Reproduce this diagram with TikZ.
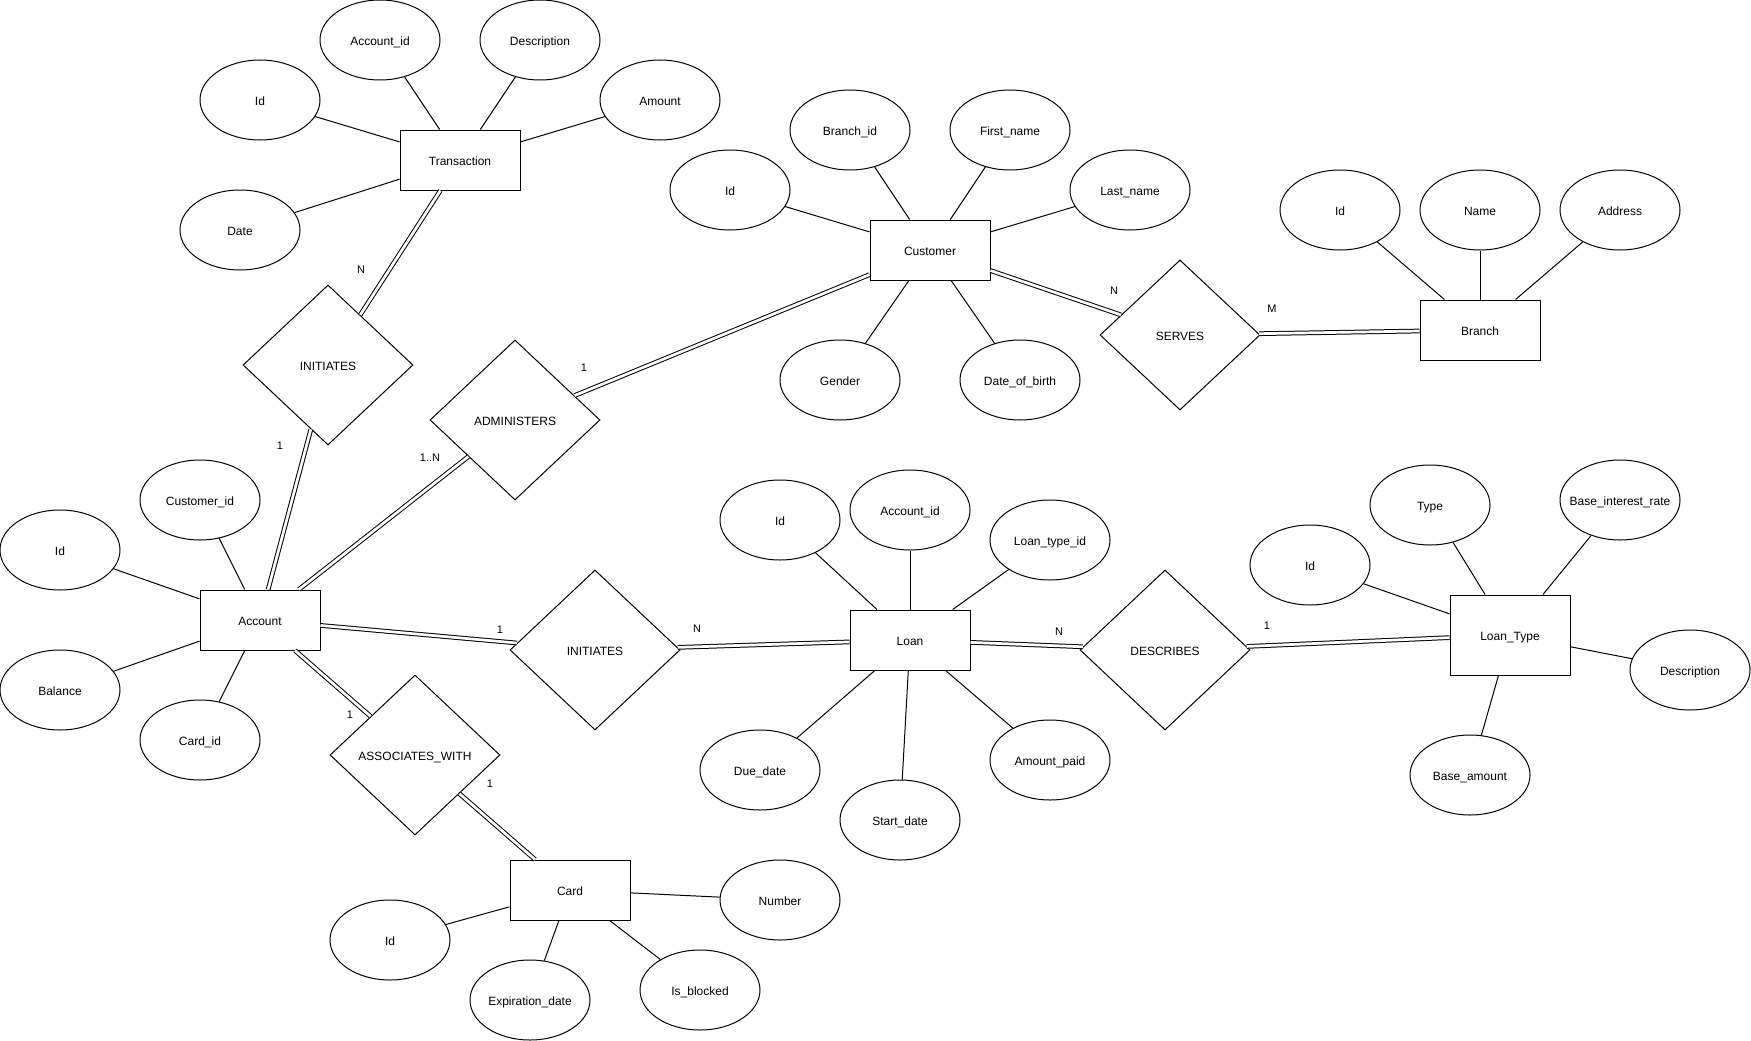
\documentclass[tikz,border=0pt]{standalone}
\usepackage{fontspec}
\setmainfont{Liberation Sans}
\usetikzlibrary{shapes.geometric}
\begin{document}
\begin{tikzpicture}[x=1pt,y=-1pt,
  every node/.style={font=\fontsize{12}{14}\selectfont, text=black},
  entity/.style={draw, line width=1pt, rectangle, minimum width=120pt, minimum height=60pt, inner sep=0pt, text height=10.4pt, text depth=0pt},
  attr/.style={draw, line width=1pt, ellipse, minimum width=120pt, minimum height=80pt, inner sep=0pt, inner xsep=-22pt, text height=10.4pt, text depth=0pt},
  rel/.style={draw, line width=1pt, diamond, minimum width=170pt, minimum height=160pt, inner sep=0pt, text height=10.4pt, text depth=0pt},
  conn/.style={line width=1pt},
  rl/.style={double, double distance=2.7pt, line width=1pt},
  lbl/.style={font=\fontsize{11}{13}\selectfont, inner sep=0pt}]
\useasboundingbox (0,0) rectangle (1751,1041);

% Transaction
\node[entity] (tr) at (460,160) {Transaction};
\node[attr] (tr_id) at (260,100) {Id};
\node[attr] (tr_acc) at (380,40) {Account\_id};
\node[attr] (tr_desc) at (540,40) {Description};
\node[attr] (tr_amt) at (660,100) {Amount};
\node[attr] (tr_date) at (240,230) {Date};

% Customer
\node[entity] (cu) at (930,250) {Customer};
\node[attr] (cu_id) at (730,190) {Id};
\node[attr] (cu_br) at (850,130) {Branch\_id};
\node[attr] (cu_fn) at (1010,130) {First\_name};
\node[attr] (cu_ln) at (1130,190) {Last\_name};
\node[attr] (cu_g) at (840,380) {Gender};
\node[attr] (cu_dob) at (1020,380) {Date\_of\_birth};

% Branch
\node[entity] (br) at (1480,330) {Branch};
\node[attr] (br_id) at (1340,210) {Id};
\node[attr] (br_name) at (1480,210) {Name};
\node[attr] (br_addr) at (1620,210) {Address};

% Relationships (top)
\node[rel, minimum width=160pt, minimum height=150pt] (serves) at (1180,335) {SERVES};
\node[rel] (init1) at (328,365) {INITIATES};
\node[rel] (admin) at (515,420) {ADMINISTERS};

% Account
\node[entity] (acc) at (260,620) {Account};
\node[attr] (acc_id) at (60,550) {Id};
\node[attr] (acc_cid) at (200,500) {Customer\_id};
\node[attr] (acc_bal) at (60,690) {Balance};
\node[attr] (acc_card) at (200,740) {Card\_id};

% Loan
\node[rel] (init2) at (595,650) {INITIATES};
\node[entity] (loan) at (910,640) {Loan};
\node[attr] (ln_id) at (780,520) {Id};
\node[attr] (ln_acc) at (910,510) {Account\_id};
\node[attr] (ln_lt) at (1050,540) {Loan\_type\_id};
\node[attr] (ln_due) at (760,770) {Due\_date};
\node[attr] (ln_start) at (900,820) {Start\_date};
\node[attr] (ln_paid) at (1050,760) {Amount\_paid};

% Loan_Type
\node[rel] (desc) at (1165,650) {DESCRIBES};
\node[entity, minimum height=80pt] (lt) at (1510,635) {Loan\_Type};
\node[attr] (lt_id) at (1310,565) {Id};
\node[attr] (lt_type) at (1430,505) {Type};
\node[attr] (lt_bir) at (1620,500) {Base\_interest\_rate};
\node[attr] (lt_desc) at (1690,670) {Description};
\node[attr] (lt_ba) at (1470,775) {Base\_amount};

% Card
\node[rel] (assoc) at (415,755) {ASSOCIATES\_WITH};
\node[entity] (card) at (570,890) {Card};
\node[attr] (cd_id) at (390,940) {Id};
\node[attr] (cd_exp) at (530,1000) {Expiration\_date};
\node[attr] (cd_blk) at (700,990) {Is\_blocked};
\node[attr] (cd_num) at (780,900) {Number};

% attribute connectors
\foreach \a in {tr_id,tr_acc,tr_desc,tr_amt,tr_date} \draw[conn] (\a) -- (tr);
\foreach \a in {cu_id,cu_br,cu_fn,cu_ln,cu_g,cu_dob} \draw[conn] (\a) -- (cu);
\foreach \a in {br_id,br_name,br_addr} \draw[conn] (\a) -- (br);
\foreach \a in {acc_id,acc_cid,acc_bal,acc_card} \draw[conn] (\a) -- (acc);
\foreach \a in {ln_id,ln_acc,ln_lt,ln_due,ln_start,ln_paid} \draw[conn] (\a) -- (loan);
\foreach \a in {lt_id,lt_type,lt_bir,lt_desc,lt_ba} \draw[conn] (\a) -- (lt);
\foreach \a in {cd_id,cd_exp,cd_blk,cd_num} \draw[conn] (\a) -- (card);

% relationship connectors
\draw[rl] (tr) -- (init1);
\draw[rl] (init1) -- (acc);
\draw[rl] (admin) -- (cu);
\draw[rl] (admin) -- (acc);
\draw[rl] (cu) -- (serves);
\draw[rl] (serves) -- (br);
\draw[rl] (acc) -- (init2);
\draw[rl] (init2) -- (loan);
\draw[rl] (loan) -- (desc);
\draw[rl] (desc) -- (lt);
\draw[rl] (acc) -- (assoc);
\draw[rl] (assoc) -- (card);

% cardinality labels
\node[lbl] (l1) at (361,270) {N};
\node[lbl] (l2) at (280,446) {1};
\node[lbl] (l3) at (584,368) {1};
\node[lbl] (l4) at (430,458) {1..N};
\node[lbl] (l5) at (1114,291) {N};
\node[lbl] (l6) at (1272,309) {M};
\node[lbl] (l7) at (500,630) {1};
\node[lbl] (l8) at (697,629) {N};
\node[lbl] (l9) at (1059,632) {N};
\node[lbl] (l10) at (1267,626) {1};
\node[lbl] (l11) at (350,715) {1};
\node[lbl] (l12) at (490,784) {1};
\end{tikzpicture}
\end{document}
